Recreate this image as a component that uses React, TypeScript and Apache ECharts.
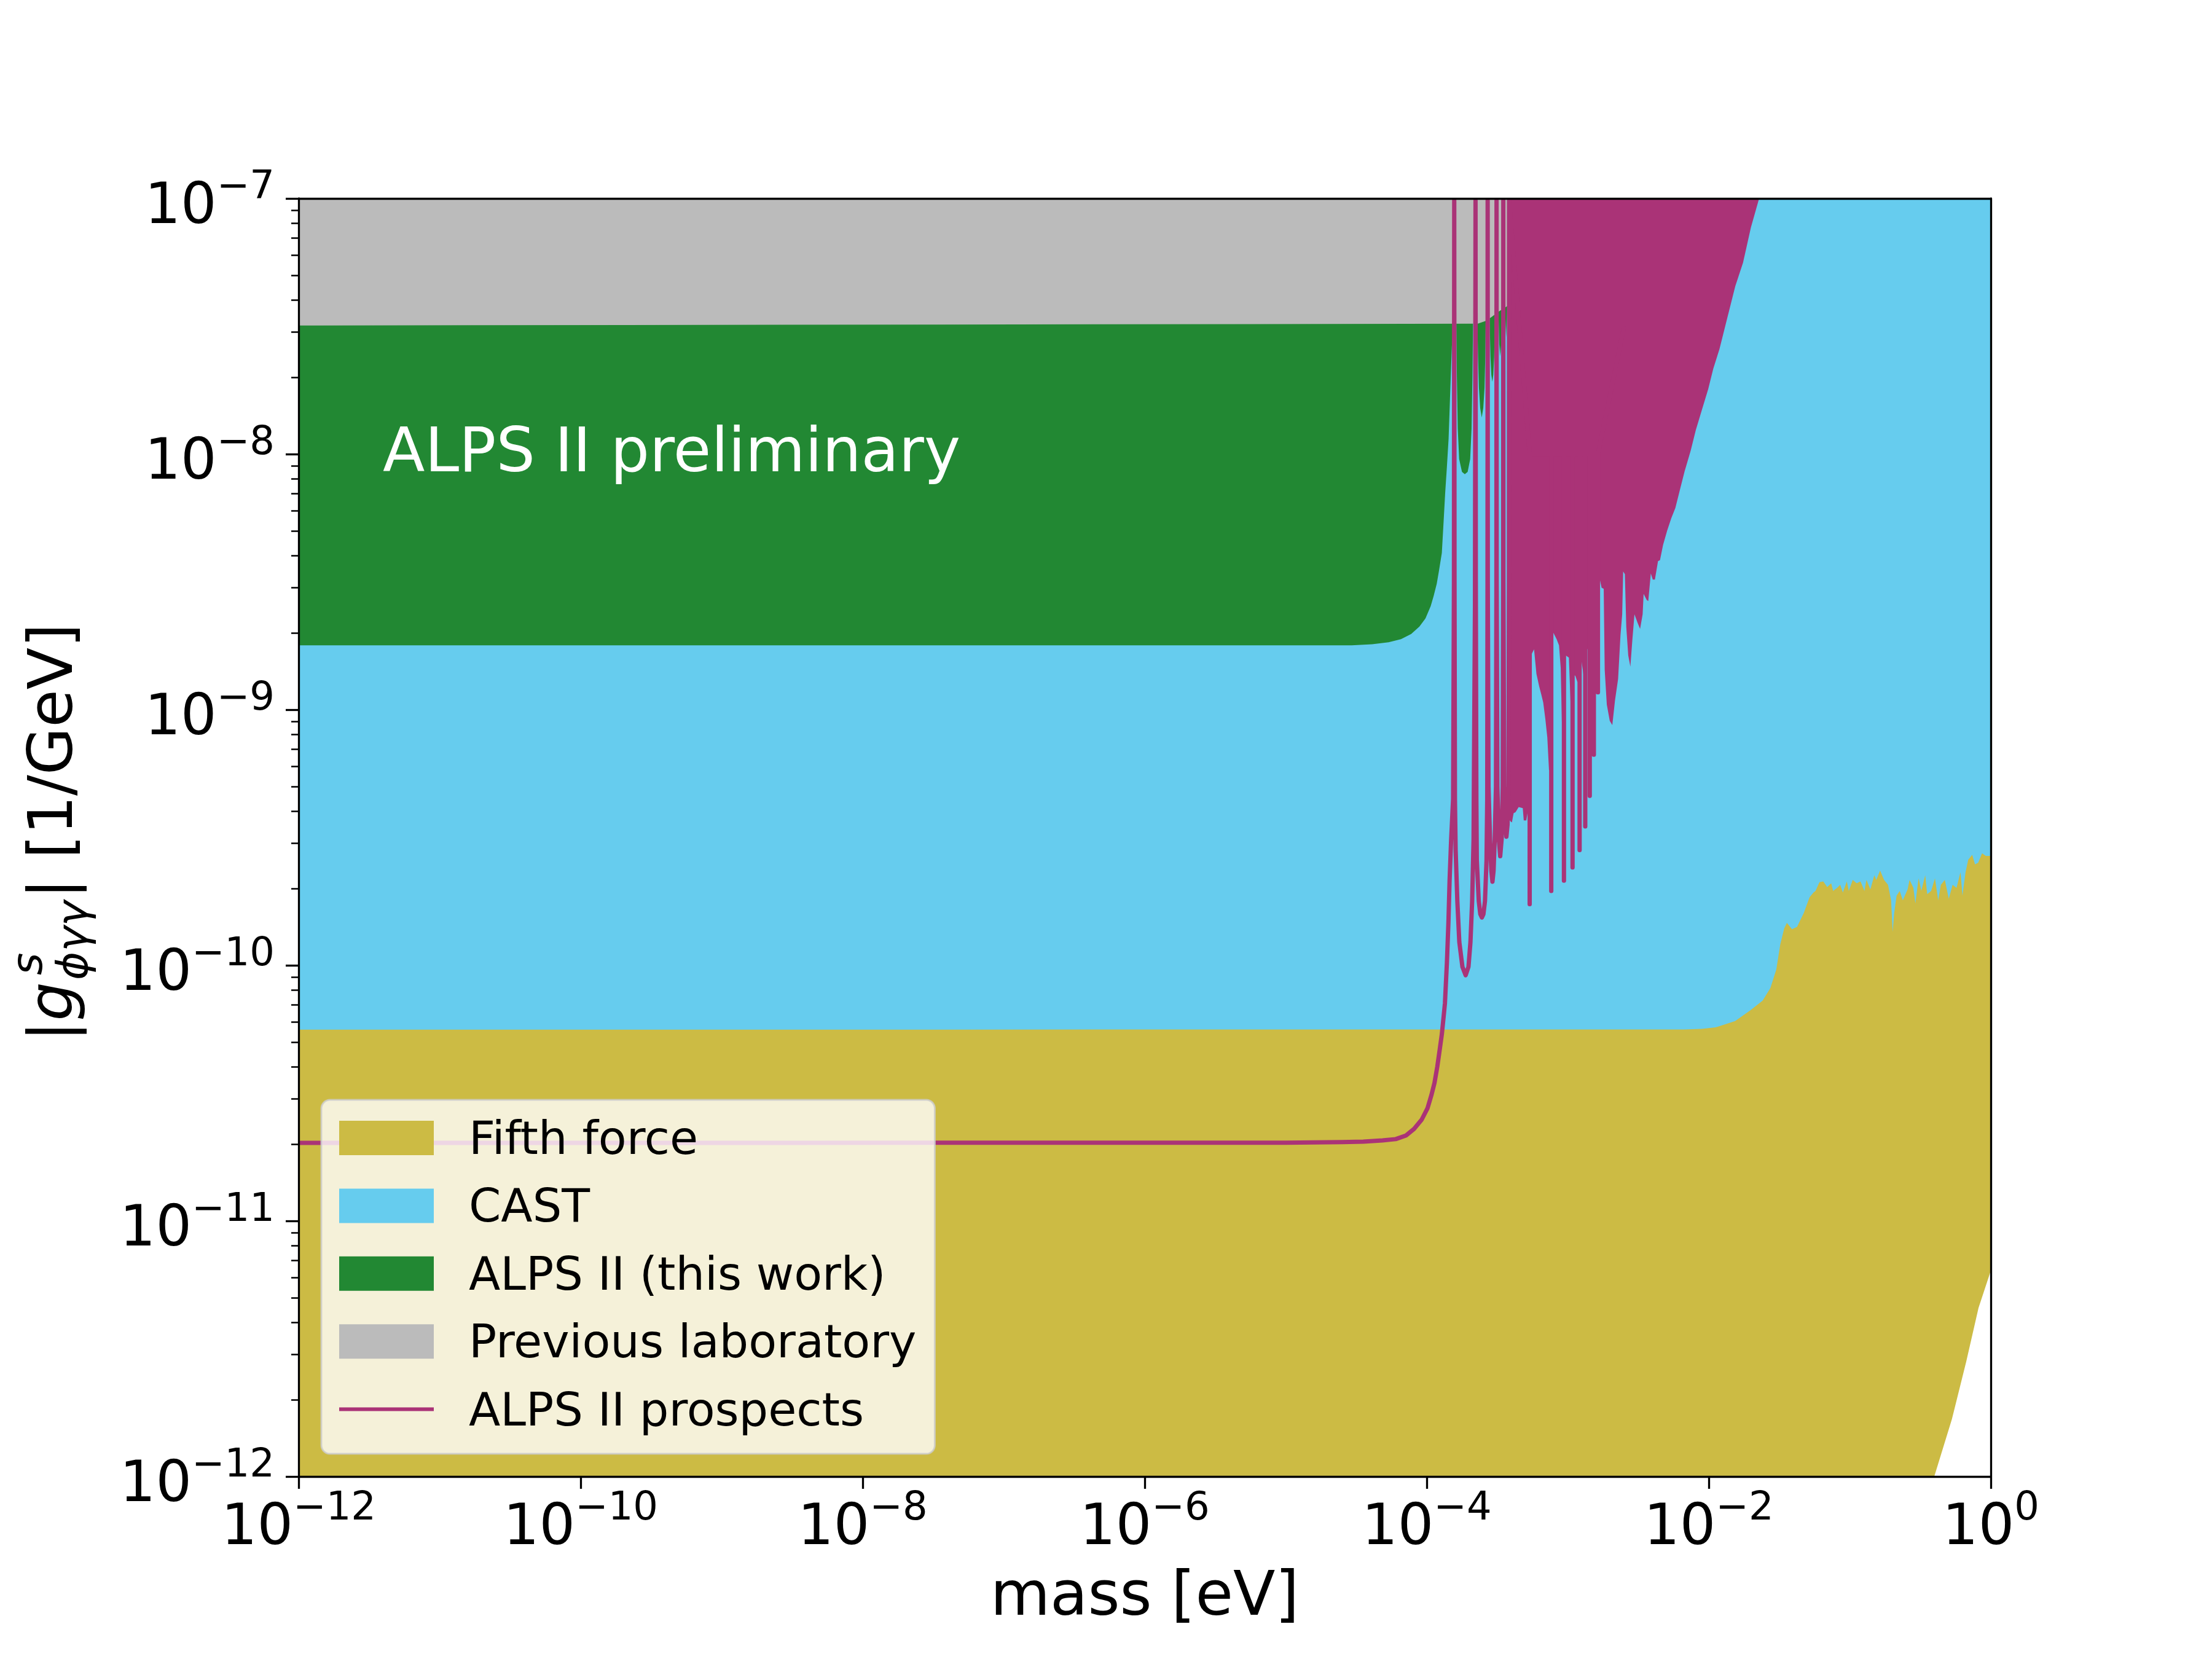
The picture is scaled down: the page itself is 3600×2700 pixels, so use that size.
import React, { useEffect, useRef } from 'react';
import * as echarts from 'echarts';

const FONT = 'DejaVu Sans';
const C_FIFTH = '#CCBB44';
const C_CAST = '#66CCEE';
const C_ALPS = '#228833';
const C_PREV = '#BBBBBB';
const C_PROS = '#AA3377';

// All values are log10(mass/eV) and log10(|g| GeV)
const xTickValues = [-12, -10, -8, -6, -4, -2, 0];
const yTickValues = [-12, -11, -10, -9, -8, -7];
const yMinorMultipliers = [2, 3, 4, 5, 6, 7, 8, 9];
const legendNames = ['Fifth force', 'CAST', 'ALPS II (this work)', 'Previous laboratory', 'ALPS II prospects'];

const castLower = [[-12, -10.26], [0, -10.26]];
const castUpper = [[-12, -7], [0, -7]];

const fifthUpper = [
  [-12, -10.252], [-2.174, -10.251], [-2.05, -10.249], [-1.952, -10.243], [-1.813, -10.218], [-1.702, -10.175],
  [-1.618, -10.138], [-1.563, -10.089], [-1.521, -10.016], [-1.493, -9.918], [-1.465, -9.856], [-1.446, -9.834],
  [-1.41, -9.859], [-1.374, -9.85], [-1.326, -9.795], [-1.285, -9.734], [-1.257, -9.715], [-1.243, -9.709],
  [-1.215, -9.675], [-1.188, -9.672], [-1.16, -9.694], [-1.132, -9.679], [-1.118, -9.709], [-1.09, -9.697],
  [-1.068, -9.685], [-1.049, -9.715], [-1.021, -9.672], [-1.007, -9.709], [-0.979, -9.666], [-0.951, -9.679],
  [-0.924, -9.672], [-0.896, -9.709], [-0.882, -9.666], [-0.854, -9.703], [-0.826, -9.648], [-0.812, -9.666],
  [-0.785, -9.629], [-0.757, -9.666], [-0.729, -9.685], [-0.707, -9.746], [-0.696, -9.869], [-0.685, -9.795],
  [-0.668, -9.728], [-0.646, -9.709], [-0.624, -9.746], [-0.59, -9.703], [-0.576, -9.666], [-0.549, -9.697],
  [-0.535, -9.758], [-0.512, -9.66], [-0.493, -9.709], [-0.465, -9.648], [-0.451, -9.722], [-0.423, -9.709],
  [-0.396, -9.66], [-0.373, -9.746], [-0.354, -9.685], [-0.326, -9.666], [-0.298, -9.74], [-0.271, -9.685],
  [-0.243, -9.697], [-0.215, -9.636], [-0.201, -9.728], [-0.179, -9.636], [-0.16, -9.587], [-0.132, -9.568],
  [-0.112, -9.605], [-0.09, -9.599], [-0.062, -9.562], [-0.035, -9.572], [0, -9.572],
];
const fifthLower = [[-12, -12], [-0.401, -12], [-0.276, -11.776], [-0.174, -11.55], [-0.087, -11.34], [0, -11.195]];

const alpsUpper = [[-12, -7], [-3.15, -7]];
const alpsLower = [
  [-12, -8.748], [-4.532, -8.748], [-4.387, -8.744], [-4.27, -8.736], [-4.183, -8.724], [-4.11, -8.704],
  [-4.052, -8.675], [-4.009, -8.643], [-3.972, -8.595], [-3.951, -8.555], [-3.929, -8.507], [-3.914, -8.459],
  [-3.9, -8.411], [-3.893, -8.387], [-3.88, -8.26], [-3.869, -8.15], [-3.857, -8.05], [-3.845, -7.94],
  [-3.833, -7.75], [-3.822, -7.58], [-3.814, -7.497], [-3.812, -7.4], [-3.792, -7.4],
  [-3.79, -7.5], [-3.786, -7.7], [-3.78, -7.9], [-3.77, -8.02], [-3.75, -8.07], [-3.73, -8.079], [-3.71, -8.07],
  [-3.692, -8.02], [-3.682, -7.9], [-3.676, -7.7], [-3.672, -7.5], [-3.67, -7.4], [-3.642, -7.4],
  [-3.64, -7.5], [-3.636, -7.62], [-3.63, -7.74], [-3.621, -7.82], [-3.61, -7.857], [-3.599, -7.82],
  [-3.59, -7.74], [-3.585, -7.62], [-3.582, -7.5], [-3.58, -7.4], [-3.555, -7.4],
  [-3.553, -7.5], [-3.548, -7.62], [-3.542, -7.69], [-3.535, -7.717], [-3.528, -7.69], [-3.522, -7.62],
  [-3.518, -7.5], [-3.516, -7.4], [-3.492, -7.4],
  [-3.49, -7.48], [-3.486, -7.57], [-3.479, -7.617], [-3.472, -7.57], [-3.468, -7.48], [-3.466, -7.4], [-3.445, -7.4],
  [-3.443, -7.46], [-3.437, -7.543], [-3.431, -7.46], [-3.428, -7.38],
  [-3.4, -7.38], [-3.3, -7.8], [-3.22, -7.8], [-3.15, -7.0],
];

const prevUpper = [[-12, -7], [-3.15, -7]];
const prevLower = [
  [-12, -7.497], [-3.638, -7.49], [-3.581, -7.479], [-3.544, -7.465], [-3.486, -7.441], [-3.431, -7.422],
  [-3.399, -7.389], [-3.3, -7.25], [-3.268, -7.199], [-3.2, -7.1], [-3.15, -7.0],
];

// ALPS II prospects: flat part, rise and the resolved oscillation dips (peaks reach the top of the frame)
const prospectsCurve = [
  [-12, -10.695], [-5.0, -10.694], [-4.6, -10.692], [-4.45, -10.69], [-4.314, -10.685], [-4.22, -10.68],
  [-4.147, -10.666], [-4.09, -10.64], [-4.036, -10.604], [-3.995, -10.56], [-3.966, -10.506], [-3.945, -10.46],
  [-3.925, -10.396], [-3.908, -10.33], [-3.893, -10.27], [-3.88, -10.2], [-3.871, -10.149], [-3.857, -9.99],
  [-3.846, -9.829], [-3.838, -9.669], [-3.827, -9.509], [-3.813, -9.349], [-3.807, -8.5], [-3.805, -7.008],
  [-3.803, -8.5], [-3.8, -9.35], [-3.795, -9.55], [-3.783, -9.749], [-3.769, -9.909], [-3.747, -10.006],
  [-3.724, -10.039], [-3.704, -10.006], [-3.69, -9.909], [-3.678, -9.749], [-3.668, -9.509], [-3.658, -8.6], [-3.654, -7.008],
  [-3.652, -8.5], [-3.648, -9.35], [-3.645, -9.589], [-3.631, -9.749], [-3.62, -9.8], [-3.609, -9.813],
  [-3.598, -9.8], [-3.587, -9.749], [-3.576, -9.589], [-3.571, -9.35], [-3.569, -8.5], [-3.568, -7.008],
  [-3.567, -8.5], [-3.562, -9.3], [-3.551, -9.509], [-3.542, -9.63], [-3.534, -9.673], [-3.526, -9.63],
  [-3.518, -9.509], [-3.509, -9.3], [-3.506, -8.5], [-3.505, -7.008],
  [-3.504, -8.5], [-3.499, -9.3], [-3.49, -9.5], [-3.479, -9.573], [-3.468, -9.5], [-3.461, -9.3], [-3.458, -8.5], [-3.457, -7.008],
  [-3.456, -8.5], [-3.451, -9.3], [-3.443, -9.45], [-3.435, -9.497], [-3.427, -9.45], [-3.42, -9.3], [-3.417, -8.5], [-3.416, -7.008],
];
// deepest narrow dips inside the dense oscillation region
const prospectsSpikes = [
  [-3.27, -9.761], [-3.117, -9.709], [-3.027, -9.669], [-2.966, -9.617], [-2.916, -9.549],
  [-2.876, -9.457], [-2.844, -9.337], [-2.815, -9.176], [-2.786, -8.932],
];
// dense oscillation region (lines merge into a filled band): lower envelope
const prospectsDenseUpper = [[-3.414, -7], [-1.643, -7]];
const prospectsDenseLower = [
  [-3.414, -9.43], [-3.406, -9.437], [-3.396, -9.441], [-3.384, -9.405], [-3.37, -9.401], [-3.348, -9.381],
  [-3.319, -9.385], [-3.312, -9.433], [-3.294, -9.433], [-3.283, -9.397], [-3.272, -9.4], [-3.268, -8.79],
  [-3.261, -8.788], [-3.239, -8.764], [-3.222, -8.86], [-3.203, -8.908], [-3.188, -8.94], [-3.174, -8.972],
  [-3.159, -9.036], [-3.145, -9.108], [-3.133, -9.236], [-3.119, -9.24], [-3.115, -8.7], [-3.101, -8.7],
  [-3.079, -8.724], [-3.062, -8.748], [-3.05, -8.836], [-3.039, -9.108], [-3.029, -9.11], [-3.025, -8.79],
  [-3.014, -8.788], [-2.992, -8.796], [-2.978, -9.004], [-2.968, -9.0], [-2.964, -8.86], [-2.946, -8.868],
  [-2.931, -8.892], [-2.918, -8.89], [-2.914, -8.81], [-2.902, -8.812], [-2.887, -8.868], [-2.878, -8.87],
  [-2.874, -8.76], [-2.858, -8.764], [-2.85, -8.868], [-2.846, -8.87], [-2.842, -8.75], [-2.829, -8.748],
  [-2.824, -8.828], [-2.817, -8.83], [-2.813, -8.71], [-2.803, -8.708], [-2.792, -8.748], [-2.788, -8.75],
  [-2.784, -8.63], [-2.774, -8.627], [-2.774, -8.487], [-2.76, -8.523], [-2.745, -8.527], [-2.738, -8.844],
  [-2.723, -8.98], [-2.702, -9.044], [-2.684, -9.06], [-2.665, -8.964], [-2.643, -8.88], [-2.626, -8.708],
  [-2.614, -8.627], [-2.607, -8.459], [-2.595, -8.47], [-2.585, -8.676], [-2.571, -8.788], [-2.556, -8.832],
  [-2.542, -8.728], [-2.527, -8.627], [-2.505, -8.66], [-2.487, -8.684], [-2.469, -8.627], [-2.462, -8.547],
  [-2.44, -8.571], [-2.429, -8.575], [-2.411, -8.467], [-2.397, -8.491], [-2.382, -8.491], [-2.36, -8.419],
  [-2.346, -8.415], [-2.324, -8.355], [-2.295, -8.299], [-2.266, -8.251], [-2.237, -8.211], [-2.208, -8.147],
  [-2.171, -8.067], [-2.128, -7.986], [-2.092, -7.906], [-2.048, -7.826], [-2.004, -7.746], [-1.968, -7.666],
  [-1.924, -7.589], [-1.868, -7.466], [-1.812, -7.343], [-1.757, -7.251], [-1.701, -7.113], [-1.643, -7.0],
];

function buildProspectsLine(): number[][] {
  const pts: number[][] = prospectsCurve.map((p) => [p[0], p[1]]);
  for (const s of prospectsSpikes) {
    pts.push([s[0], -8.0], [s[0], s[1]], [s[0], -8.0]);
  }
  pts.push([-2.6, -7.5]);
  return pts;
}

function bandSeries(name: string, color: string, upper: number[][], lower: number[][]) {
  return {
    type: 'custom',
    name,
    coordinateSystem: 'cartesian2d',
    xAxisIndex: 0,
    yAxisIndex: 0,
    silent: true,
    itemStyle: { color },
    data: [[-6, -9]],
    renderItem: (_params: any, api: any) => {
      const pts = upper.map((p) => api.coord(p)).concat(lower.slice().reverse().map((p) => api.coord(p)));
      return { type: 'polygon', shape: { points: pts }, style: { fill: color } };
    },
  };
}

const supText = (v: number) => {
  const r = Math.round(v);
  return r < 0 ? '\u2212' + Math.abs(r) : String(r);
};
const tickFmt = (v: number) => `{b|10}{s|${supText(v)}}`;
const tickRich = {
  b: { fontSize: 92, fontFamily: FONT, color: '#000', lineHeight: 92, verticalAlign: 'bottom' },
  s: { fontSize: 64, fontFamily: FONT, color: '#000', verticalAlign: 'top', padding: [0, 0, 44, 0] },
};

function buildOption() {
  const canvas = document.createElement('canvas');
  const ctx = canvas.getContext('2d');
  const mw = (t: string, size: number, italic: boolean) => {
    if (!ctx) return t.length * size * 0.6;
    ctx.font = `${italic ? 'italic ' : ''}${size}px "${FONT}"`;
    return ctx.measureText(t).width;
  };
  const FS = 100;
  const FSS = 70;
  const cOff = (fs: number) => -0.346 * fs;
  const wBar = mw('|', FS, false);
  const wG = mw('g', FS, true);
  const uScr = wBar + wG + 3;
  const wSup = mw('s', FSS, true);
  const wSub = mw('\u03D5\u03B3\u03B3', FSS, true);
  const uBar2 = uScr + Math.max(wSup + 8, wSub) + 3;
  const wRest = mw('| [1/GeV]', FS, false);
  const total = uBar2 + wRest;
  const txt = (text: string, x: number, y: number, size: number, italic: boolean) => ({
    type: 'text',
    x,
    y,
    z: 100,
    style: {
      text,
      fontSize: size,
      fontFamily: FONT,
      fontStyle: italic ? 'italic' : 'normal',
      fill: '#000',
      align: 'left',
      verticalAlign: 'middle',
      textAlign: 'left',
      textVerticalAlign: 'middle',
    },
  });

  const yMinor: number[] = [];
  for (let n = -12; n < -7; n++) for (const k of yMinorMultipliers) yMinor.push(n + Math.log10(k));

  const axisLineStyle = { color: '#000', width: 3.3 };

  return {
    animation: false,
    backgroundColor: '#ffffff',
    grid: { left: 486, top: 323, width: 2754, height: 2080, outerBoundsMode: 'none', containLabel: false },
    xAxis: [
      {
        type: 'value', min: -12, max: 0, interval: 2, position: 'bottom', z: 10,
        axisLine: { show: true, onZero: false, lineStyle: axisLineStyle },
        axisTick: { show: true, length: 20, lineStyle: { color: '#000', width: 3.3 } },
        axisLabel: { show: true, margin: 16, formatter: tickFmt, rich: tickRich, showMinLabel: true, showMaxLabel: true, alignMinLabel: 'center', alignMaxLabel: 'center' },
        splitLine: { show: false },
        name: 'mass [eV]', nameLocation: 'middle', nameGap: 140,
        nameTextStyle: { fontSize: 100, fontFamily: FONT, color: '#000' },
      },
      {
        type: 'value', min: -12, max: 0, position: 'top', z: 10,
        axisLine: { show: true, onZero: false, lineStyle: axisLineStyle },
        axisTick: { show: false }, axisLabel: { show: false }, splitLine: { show: false },
      },
    ],
    yAxis: [
      {
        type: 'value', min: -12, max: -7, interval: 1, position: 'left', z: 10,
        axisLine: { show: true, onZero: false, lineStyle: axisLineStyle },
        axisTick: { show: true, length: 21, lineStyle: { color: '#000', width: 3.3 } },
        axisLabel: { show: true, margin: 39, formatter: tickFmt, rich: tickRich, showMinLabel: true, showMaxLabel: true },
        splitLine: { show: false },
      },
      {
        type: 'value', min: -12, max: -7, position: 'left', z: 10,
        axisLine: { show: false, onZero: false },
        axisTick: { show: true, length: 12, customValues: yMinor, lineStyle: { color: '#000', width: 2.5 } },
        axisLabel: { show: false }, splitLine: { show: false },
      },
      {
        type: 'value', min: -12, max: -7, position: 'right', z: 10,
        axisLine: { show: true, onZero: false, lineStyle: axisLineStyle },
        axisTick: { show: false }, axisLabel: { show: false }, splitLine: { show: false },
      },
    ],
    legend: {
      show: true,
      orient: 'vertical',
      left: 523,
      top: 1790,
      padding: [24.5, 30, 35, 29],
      itemWidth: 154,
      itemHeight: 56,
      itemGap: 35.4,
      selectedMode: false,
      symbolKeepAspect: true,
      backgroundColor: 'rgba(255,255,255,0.8)',
      borderColor: 'rgba(204,204,204,0.8)',
      borderWidth: 3,
      borderRadius: 14,
      itemStyle: { borderWidth: 0 },
      textStyle: { fontSize: 75, fontFamily: FONT, color: '#000', lineHeight: 56, padding: [0, 0, 0, 52] },
      data: [
        { name: legendNames[0], icon: 'rect' },
        { name: legendNames[1], icon: 'rect' },
        { name: legendNames[2], icon: 'rect' },
        { name: legendNames[3], icon: 'rect' },
        { name: legendNames[4], icon: 'path://M0,0L154,0L154,6L0,6Z' },
      ],
    },
    graphic: [
      {
        type: 'text', x: 623, y: 732, z: 100,
        style: {
          text: 'ALPS II preliminary', fontSize: 100, fontFamily: FONT, fill: '#ffffff',
          align: 'left', verticalAlign: 'middle', textAlign: 'left', textVerticalAlign: 'middle',
        },
      },
      {
        type: 'group', x: 117, y: 1355 + total / 2, rotation: Math.PI / 2, z: 100,
        children: [
          txt('|', 0, cOff(FS), FS, false),
          txt('g', wBar, cOff(FS), FS, true),
          txt('s', uScr + 8, -49 + cOff(FSS), FSS, true),
          txt('\u03D5\u03B3\u03B3', uScr, 25 + cOff(FSS), FSS, true),
          txt('| [1/GeV]', uBar2, cOff(FS), FS, false),
        ],
      },
    ],
    series: [
      bandSeries(legendNames[1], C_CAST, castUpper, castLower),
      bandSeries(legendNames[2], C_ALPS, alpsUpper, alpsLower),
      bandSeries(legendNames[3], C_PREV, prevUpper, prevLower),
      bandSeries(legendNames[0], C_FIFTH, fifthUpper, fifthLower),
      bandSeries('ALPS II prospects (dense region)', C_PROS, prospectsDenseUpper, prospectsDenseLower),
      {
        type: 'line',
        name: legendNames[4],
        xAxisIndex: 0,
        yAxisIndex: 0,
        data: buildProspectsLine(),
        showSymbol: false,
        symbol: 'none',
        clip: true,
        silent: true,
        itemStyle: { color: C_PROS },
        lineStyle: { color: C_PROS, width: 7, cap: 'butt', join: 'round' },
      },
    ],
  };
}

export default function App() {
  const ref = useRef<HTMLDivElement>(null);
  useEffect(() => {
    if (!ref.current) return;
    const chart = echarts.init(ref.current, undefined, { renderer: 'svg' });
    chart.setOption(buildOption() as any);
    return () => {
      chart.dispose();
    };
  }, []);
  return (
    <div
      ref={ref}
      style={{ position: 'absolute', left: 0, top: 0, width: 3600, height: 2700, background: '#ffffff' }}
    />
  );
}
